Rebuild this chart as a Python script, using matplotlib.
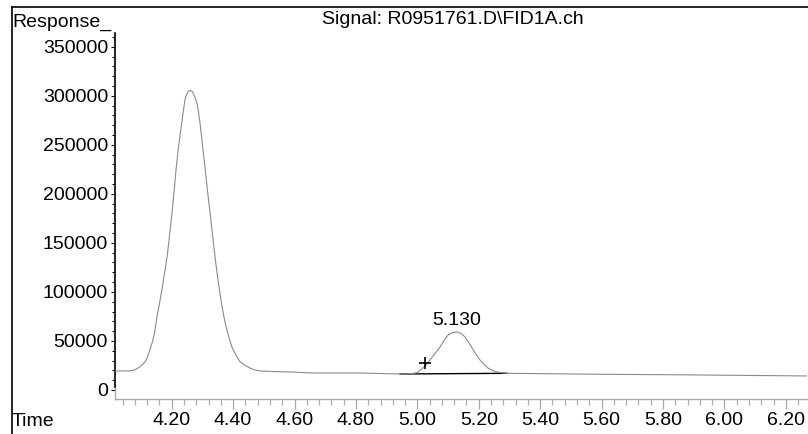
import matplotlib
matplotlib.use("Agg")
import matplotlib.pyplot as plt
from matplotlib.ticker import MultipleLocator
from matplotlib.lines import Line2D

plt.rcParams['font.family'] = ['Liberation Sans', 'DejaVu Sans']

# ---- data ----
time_min = [4.015, 4.064, 4.080, 4.090, 4.100, 4.113, 4.120, 4.129, 4.139, 4.145,
            4.152, 4.160, 4.168, 4.176, 4.185, 4.193, 4.201, 4.207, 4.214, 4.221,
            4.228, 4.234, 4.243, 4.248, 4.253, 4.258, 4.262, 4.266, 4.269, 4.275,
            4.282, 4.287, 4.292, 4.297, 4.302, 4.307, 4.312, 4.318, 4.325, 4.333,
            4.341, 4.349, 4.357, 4.365, 4.374, 4.385, 4.396, 4.410, 4.423, 4.440,
            4.455, 4.470, 4.488, 4.530, 4.585, 4.660, 4.813, 4.944, 4.986, 5.000,
            5.015, 5.028, 5.041, 5.058, 5.074, 5.087, 5.100, 5.115, 5.129, 5.142,
            5.155, 5.167, 5.178, 5.191, 5.204, 5.217, 5.230, 5.245, 5.260, 5.276,
            5.292, 5.595, 5.846, 6.269]
response = [19400, 19400, 20500, 22400, 24500, 28600, 33000, 40800, 51000, 60000,
            74500, 88000, 102000, 118000, 135700, 158000, 180600, 200000, 224500, 244900,
            262000, 275500, 295900, 301000, 304100, 305300, 305100, 304500, 303100, 299000,
            292900, 284000, 272400, 259000, 244900, 231000, 216300, 199000, 180600, 158000,
            135700, 116000, 99000, 83000, 68400, 55000, 43900, 35000, 28600, 25000,
            22400, 20500, 19400, 18800, 18400, 17300, 17300, 16300, 16800, 17800,
            21400, 25500, 30600, 37500, 43900, 50500, 56100, 58700, 59200, 57800,
            54100, 48500, 42900, 36500, 30600, 26000, 22400, 19800, 18400, 17500,
            17000, 16000, 15500, 14300]

baseline_time = [4.944, 5.292]
baseline_resp = [16300, 17000]

peak_label = "5.130"
peak_label_pos = (5.129, 70400)
marker_pos = (5.025, 27500)

yticks = [0, 50000, 100000, 150000, 200000, 250000, 300000, 350000]
xticks = [4.20, 4.40, 4.60, 4.80, 5.00, 5.20, 5.40, 5.60, 5.80, 6.00, 6.20]
xlabels = ["4.20", "4.40", "4.60", "4.80", "5.00", "5.20", "5.40", "5.60", "5.80", "6.00", "6.20"]

title = "Signal: R0951761.D\\FID1A.ch"

# ---- figure ----
fig = plt.figure(figsize=(8.08, 4.34), dpi=100)
ax = fig.add_axes([115/808, 35/434, 692/808, 366/434])

FS = 14
gray = "#8a8a8a"

ax.plot(baseline_time, baseline_resp, color="black", lw=1.0, zorder=2)
ax.plot(time_min, response, color=gray, lw=0.8, zorder=3)

ax.plot(*marker_pos, marker="+", color="black", ms=8, mew=1.2, zorder=4)
ax.text(peak_label_pos[0], peak_label_pos[1], peak_label, ha="center", va="center",
        fontsize=FS, color="black")

ymin, ymax = -9200, 364000
ax.set_xlim(4.0153, 6.269)
ax.set_ylim(ymin, ymax)

ax.set_yticks(yticks)
ax.set_yticklabels([str(v) for v in yticks], fontsize=FS)
ax.yaxis.set_minor_locator(MultipleLocator(10000))
ax.set_xticks(xticks)
ax.set_xticklabels(xlabels, fontsize=FS)
ax.xaxis.set_minor_locator(MultipleLocator(0.04))

ax.tick_params(axis="y", which="major", length=3, width=0.8, color="black", pad=2)
ax.tick_params(axis="y", which="minor", length=2, width=0.8, color="black")
ax.tick_params(axis="x", which="major", length=7.5, width=0.9, color="#aaaaaa", pad=2)
ax.tick_params(axis="x", which="minor", length=4.3, width=0.9, color="#aaaaaa")

for s in ["top", "right"]:
    ax.spines[s].set_visible(False)
ax.spines["bottom"].set_color("#aaaaaa")
ax.spines["bottom"].set_linewidth(1.0)
ax.spines["left"].set_color("black")
ax.spines["left"].set_linewidth(1.2)
ax.spines["left"].set_bounds(3000, ymax)
ax.plot([0, 0], [ymin, 3000], color="#aaaaaa", lw=1.0,
        transform=ax.get_yaxis_transform(), clip_on=False)

# frame lines and header texts
fig.add_artist(Line2D([12/808, 1.0], [1 - 7/434, 1 - 7/434], color="black", lw=1.2))
fig.add_artist(Line2D([12/808, 12/808], [0.0, 1 - 7/434], color="black", lw=1.2))
fig.text(12/808, 1 - 22/434, "Response_", ha="left", va="center", fontsize=FS)
fig.text(12/808, 1 - 422/434, "Time", ha="left", va="center", fontsize=FS)
fig.text(453/808, 1 - 20/434, title, ha="center", va="center", fontsize=FS)

fig.savefig("out.png", dpi=100)
